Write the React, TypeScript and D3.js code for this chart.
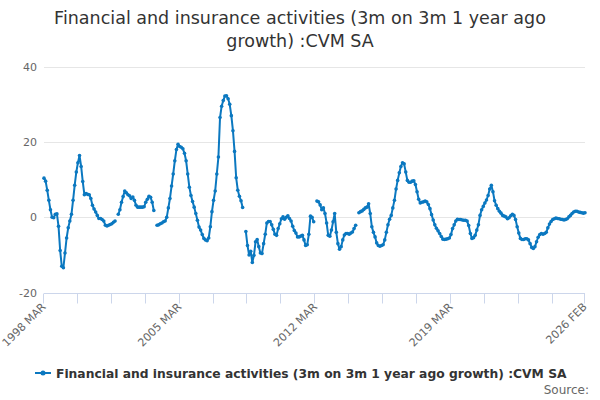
import React, { useEffect, useRef } from 'react';
import * as d3 from 'd3';

// monthly values, 1998 MAR .. 2026 FEB (null = no data)
const values1998to2004: (number | null)[] = [
  10.4, 9.6, 7.2, 4.5, 2.0, 0.0, -0.1, 0.8, 0.9, -2.4, -8.8, -13.0,
  -13.4, -9.5, -5.5, -2.8, -1.0, 0.8, 4.5, 8.5, 12.0, 14.5, 16.4, 13.5,
  9.5, 6.0, 6.3, 6.1, 6.0, 5.0, 3.2, 2.2, 1.4, 0.5, -0.3, -0.3,
  -0.6, -1.0, -2.1, -2.3, -2.1, -1.9, -1.7, -1.3, -1.0, null, 0.8, 2.0,
  4.0, 5.5, 7.0, 6.5, 6.0, 5.7, 5.0, 5.4, 4.5, 3.2, 2.7, 2.7,
  2.7, 2.7, 2.8, 4.0, 4.8, 5.6, 5.3, 4.0, 1.8, null, -2.1, -2.0,
  -1.7, -1.5, -1.2, -1.0, 0.0, 2.5, 5.0, 8.3, 11.5, 15.0, 18.0, 19.4,
];
const values2005to2011: (number | null)[] = [
  18.8, 18.6, 18.2, 17.0, 15.0, 11.5, 8.0, 5.8, 4.2, 2.7, 1.0, -0.8,
  -2.6, -3.4, -4.6, -5.6, -6.0, -6.2, -5.5, -2.5, 1.5, 4.5, 7.0, 11.5,
  16.0, 26.5, 29.5, 31.0, 32.2, 32.3, 31.5, 30.0, 27.0, 23.0, 17.5, 10.5,
  7.2, 5.6, 4.4, 2.6, null, -3.8, -7.5, -10.0, -9.0, -12.0, -10.1, -6.5,
  -5.9, -7.8, -9.5, -9.6, -7.0, -4.5, -1.5, -1.1, -1.1, -2.0, -3.2, -4.5,
  -4.8, -3.0, -1.7, -0.4, 0.1, -0.5, 0.0, 0.4, -0.3, -1.0, -2.4, -3.5,
  -4.2, -5.2, -5.2, -5.0, -4.8, -6.0, -7.5, -7.3, -4.5, 0.3, 0.0, -1.2,
];
const values2012to2018: (number | null)[] = [
  null, 4.3, 4.1, 3.3, 2.0, 2.5, 1.0, -1.5, -4.8, -5.0, -3.4, -1.2,
  1.0, -4.0, -7.0, -8.5, -7.8, -6.0, -4.7, -4.3, -4.3, -4.5, -4.2, -3.9,
  -3.0, -2.1, null, 1.2, 1.5, 1.7, 2.1, 2.5, 2.7, 3.6, 1.0, -2.5,
  -4.0, -5.2, -6.8, -7.5, -7.7, -7.5, -7.3, -6.0, -4.0, -2.0, -0.5, 0.5,
  2.5, 4.5, 7.5, 9.8, 11.8, 13.5, 14.5, 14.2, 12.0, 9.8, 9.3, 9.3,
  9.6, 9.7, 8.7, 6.8, 4.8, 3.8, 4.0, 4.1, 4.3, 4.1, 3.4, 2.3,
  0.7, -0.7, -2.0, -2.9, -3.6, -4.3, -5.1, -5.8, -5.9, -5.8, -5.7, -5.5,
];
const values2019to2026: (number | null)[] = [
  -4.6, -3.0, -2.0, -1.0, -0.5, -0.6, -0.6, -0.7, -0.8, -0.8, -1.0, -2.2,
  -4.3, -5.6, -5.4, -4.8, -3.4, -2.0, 0.5, 2.0, 2.9, 3.8, 4.6, 5.8,
  7.5, 8.5, 6.8, 4.4, 3.2, 2.3, 1.6, 1.1, 0.5, 0.3, 0.1, -0.4,
  -0.1, 0.4, 0.8, 0.5, -0.6, -2.5, -4.2, -5.6, -5.9, -5.9, -5.7, -5.7,
  -6.0, -7.0, -8.0, -8.3, -7.8, -6.5, -5.3, -4.6, -4.3, -4.5, -4.3, -4.0,
  -2.8, -1.8, -1.1, -0.6, -0.4, -0.2, -0.3, -0.4, -0.5, -0.6, -0.7, -0.6,
  -0.4, 0.1, 0.5, 1.0, 1.4, 1.6, 1.6, 1.4, 1.3, 1.2, 1.1, 1.2,
];

const monthNames = ['JAN', 'FEB', 'MAR', 'APR', 'MAY', 'JUN', 'JUL', 'AUG', 'SEP', 'OCT', 'NOV', 'DEC'];
const startYear = 1998;
const startMonth = 2; // MAR
const yTicks = [-20, 0, 20, 40];
const xTickStep = 21;
const xLabelTicks = ['1998 MAR', '2005 MAR', '2012 MAR', '2019 MAR', '2026 FEB'];

const seriesName = 'Financial and insurance activities (3m on 3m 1 year ago growth) :CVM SA';
const titleLines = ['Financial and insurance activities (3m on 3m 1 year ago', 'growth) :CVM SA'];

const values = [...values1998to2004, ...values2005to2011, ...values2012to2018, ...values2019to2026];
const categories = values.map((_v, i) => {
  const m = startMonth + i;
  return `${startYear + Math.floor(m / 12)} ${monthNames[m % 12]}`;
});

const W = 600;
const H = 400;
const FONT = '"DejaVu Sans", Verdana, sans-serif';
const COLOR = '#0b78c0';

const App: React.FC = () => {
  const svgRef = useRef<SVGSVGElement>(null);

  useEffect(() => {
    if (!svgRef.current) return;
    const svg = d3.select(svgRef.current);
    svg.selectAll('*').remove();

    const x = d3.scaleLinear().domain([0, categories.length - 1]).range([44, 585]);
    const y = d3.scaleLinear().domain([-20, 40]).range([292.6, 66.7]);

    // title
    svg.append('text')
      .attr('x', W / 2)
      .attr('text-anchor', 'middle')
      .style('font-family', FONT)
      .style('font-size', '17.5px')
      .style('fill', '#333333')
      .selectAll('tspan')
      .data(titleLines)
      .enter()
      .append('tspan')
      .attr('x', W / 2)
      .attr('y', (_d, i) => 24 + i * 23)
      .text(d => d);

    // grid
    svg.append('g')
      .selectAll('line')
      .data(yTicks.filter(t => t !== -20))
      .enter()
      .append('line')
      .attr('x1', 44)
      .attr('x2', 585)
      .attr('y1', d => Math.round(y(d)) + 0.5)
      .attr('y2', d => Math.round(y(d)) + 0.5)
      .attr('stroke', '#e6e6e6')
      .attr('stroke-width', 1);

    // y labels
    svg.append('g')
      .selectAll('text')
      .data(yTicks)
      .enter()
      .append('text')
      .attr('x', 37)
      .attr('y', d => y(d) + 4)
      .attr('text-anchor', 'end')
      .style('font-family', FONT)
      .style('font-size', '11px')
      .style('fill', '#666666')
      .text(d => d);

    // x axis
    const axisY = Math.round(y(-20)) + 0.5;
    svg.append('line')
      .attr('x1', 44).attr('x2', 585)
      .attr('y1', axisY).attr('y2', axisY)
      .attr('stroke', '#ccd6eb');

    const tickIdx = d3.range(0, categories.length, xTickStep);
    if (tickIdx[tickIdx.length - 1] !== categories.length - 1) tickIdx.push(categories.length - 1);

    svg.append('g')
      .selectAll('line')
      .data(tickIdx)
      .enter()
      .append('line')
      .attr('x1', d => Math.round(x(d)) - 0.5)
      .attr('x2', d => Math.round(x(d)) - 0.5)
      .attr('y1', axisY)
      .attr('y2', axisY + 10)
      .attr('stroke', '#ccd6eb');

    const labelIdx = tickIdx.filter(i => xLabelTicks.includes(categories[i]));
    svg.append('g')
      .selectAll('text')
      .data(labelIdx)
      .enter()
      .append('text')
      .attr('transform', d => `translate(${x(d) + 2.5},${axisY + 14}) rotate(-45)`)
      .attr('text-anchor', 'end')
      .style('font-family', FONT)
      .style('font-size', '11px')
      .style('fill', '#666666')
      .text(d => categories[d]);

    // series
    const line = d3.line<number | null>()
      .defined(d => d !== null)
      .x((_d, i) => x(i))
      .y(d => y(d as number));

    svg.append('path')
      .datum(values)
      .attr('d', line)
      .attr('fill', 'none')
      .attr('stroke', COLOR)
      .attr('stroke-width', 2)
      .attr('stroke-linejoin', 'round')
      .attr('stroke-linecap', 'round');

    svg.append('g')
      .selectAll('circle')
      .data(values.map((v, i) => ({ v, i })).filter(d => d.v !== null))
      .enter()
      .append('circle')
      .attr('cx', d => x(d.i))
      .attr('cy', d => y(d.v as number))
      .attr('r', 1.8)
      .attr('fill', COLOR);

    // legend
    const lg = svg.append('g').attr('transform', 'translate(0,373)');
    lg.append('line')
      .attr('x1', 35).attr('x2', 51)
      .attr('y1', 0).attr('y2', 0)
      .attr('stroke', COLOR)
      .attr('stroke-width', 2);
    lg.append('circle').attr('cx', 43).attr('cy', 0).attr('r', 2.5).attr('fill', COLOR);
    lg.append('text')
      .attr('x', 56)
      .attr('y', 4.5)
      .style('font-family', FONT)
      .style('font-size', '12.3px')
      .style('font-weight', 'bold')
      .style('fill', '#333333')
      .text(seriesName);

    // credits
    svg.append('text')
      .attr('x', 589)
      .attr('y', 394)
      .attr('text-anchor', 'end')
      .style('font-family', FONT)
      .style('font-size', '12px')
      .style('fill', '#666666')
      .text('Source:');
  }, []);

  return (
    <svg
      ref={svgRef}
      width={W}
      height={H}
      style={{ position: 'absolute', left: 0, top: 0, background: '#ffffff' }}
    />
  );
};

export default App;
